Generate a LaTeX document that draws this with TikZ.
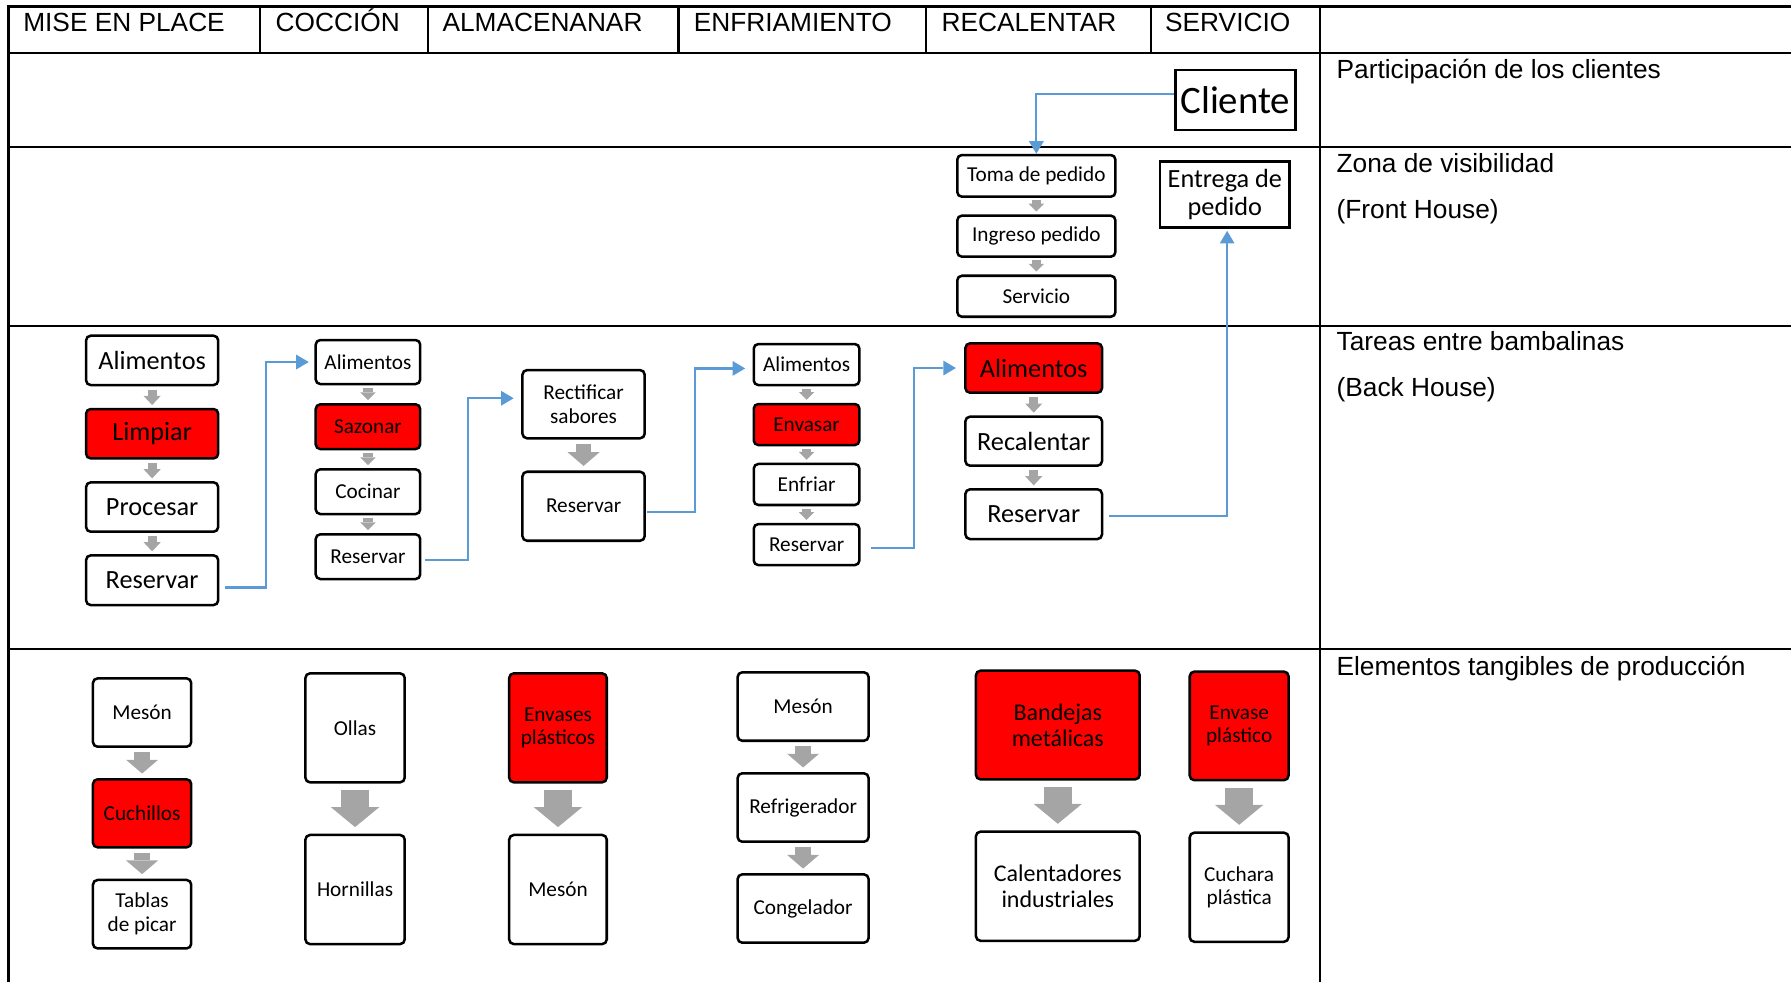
\documentclass[tikz,border=0pt]{standalone}
\usepackage{fontspec}
\setmainfont{Liberation Sans}
\newfontfamily\boxfont{Carlito}
\usetikzlibrary{arrows.meta}

\definecolor{flowblue}{HTML}{5B9BD5}
\definecolor{stepgrey}{HTML}{A5A5A5}
\definecolor{hotred}{HTML}{FF0000}

% box from its corner coordinates: name, x1, y1, x2, y2, style, text
\newcommand\bx[7]{\node[#6, minimum width={(#4-#2)*0.5pt}, minimum height={(#5-#3)*0.5pt}] (#1) at ({(#2+#4)/2},{(#3+#5)/2}) {#7};}

\begin{document}
\begin{tikzpicture}[x=0.5pt,y=-0.5pt,
  rule/.style={line width=1pt, line cap=rect},
  hdr/.style={anchor=base west, inner sep=0pt, font=\fontsize{11.5}{13}\selectfont},
  card/.style={draw=black, line width=1.1pt, rounded corners=2pt, fill=white, inner sep=0pt, align=center, text=black},
  hot/.style={card, fill=hotred},
  sharp/.style={card, rounded corners=0pt},
  fbig/.style={font=\boxfont\fontsize{11.5}{12.4}\selectfont},
  fmid/.style={font=\boxfont\fontsize{10.5}{11.6}\selectfont},
  fsm/.style={font=\boxfont\fontsize{9.3}{10.4}\selectfont},
  fhuge/.style={font=\boxfont\fontsize{17}{20}\selectfont},
  tiny/.style={draw=stepgrey, line width=4pt, -{Triangle[width=6.8pt,length=3.4pt,line width=0pt]}, shorten <=1.1pt, shorten >=1.3pt},
  small/.style={draw=stepgrey, line width=4pt, -{Triangle[width=7.5pt,length=4pt,line width=0pt]}, shorten <=1.5pt, shorten >=1.2pt},
  mid/.style={draw=stepgrey, line width=6.9pt, -{Triangle[width=14pt,length=6pt,line width=0pt]}, shorten <=1.9pt, shorten >=2pt},
  big/.style={draw=stepgrey, line width=12.3pt, -{Triangle[width=21.2pt,length=8.75pt,line width=0pt]}, shorten <=2.8pt, shorten >=2.9pt},
  flow/.style={draw=flowblue, line width=1pt, -{Triangle[width=6.5pt,length=5.5pt,line width=0pt]}}
]
\useasboundingbox (0,0) rectangle (1568,859);

% table grid
\draw[rule] (7.5,5.8) -- (1568,5.8);
\draw[rule] (7.5,46.7) -- (1568,46.7);
\draw[rule] (7.5,128.4) -- (1568,128.4);
\draw[rule] (7.5,285.1) -- (1568,285.1);
\draw[rule] (7.5,568.3) -- (1568,568.3);
\draw[rule] (7.5,5.8) -- (7.5,859);
\draw[rule] (1155.6,5.8) -- (1155.6,859);
\foreach \x in {227.6,374.4,594,811,1007.5} \draw[rule] (\x,5.8) -- (\x,46.7);

% column headings
\node[hdr] (h1) at (20,27.7) {MISE EN PLACE};
\node[hdr] (h2) at (241,27.7) {COCCIÓN};
\node[hdr] (h3) at (387,27.7) {ALMACENANAR};
\node[hdr] (h4) at (607,27.7) {ENFRIAMIENTO};
\node[hdr] (h5) at (824,27.7) {RECALENTAR};
\node[hdr] (h6) at (1019.7,27.7) {SERVICIO};

% row labels
\node[hdr] (l1) at (1169.8,68.6) {Participación de los clientes};
\node[hdr] (l2a) at (1169.8,151.2) {Zona de visibilidad};
\node[hdr] (l2b) at (1169.8,191) {(Front House)};
\node[hdr] (l3a) at (1169.8,307) {Tareas entre bambalinas};
\node[hdr] (l3b) at (1169.8,346.7) {(Back House)};
\node[hdr] (l4) at (1169.8,591) {Elementos tangibles de producción};

% customer and front house
\bx{cli}{1028.9}{61.3}{1134.2}{113.8}{sharp,fhuge}{Cliente}
\bx{toma}{838.1}{135.7}{976.5}{172.2}{card,fsm}{Toma de pedido}
\bx{ingr}{838.1}{188.8}{976.5}{224.7}{card,fsm}{Ingreso pedido}
\bx{serv}{838.1}{241.4}{976.5}{277.3}{card,fsm}{Servicio}
\bx{ent}{1015.6}{141.6}{1129.1}{199}{sharp,fbig}{Entrega de\\pedido}

% back house: mise en place
\bx{a1}{75.4}{293.9}{191}{337.1}{card,fbig}{Alimentos}
\bx{l1b}{75.4}{358.1}{191}{401.3}{hot,fbig}{Limpiar}
\bx{p1}{75.4}{422.3}{191}{465.5}{card,fbig}{Procesar}
\bx{r1}{75.4}{486.2}{191}{529.7}{card,fbig}{Reservar}
% coccion
\bx{a2}{276.4}{297.7}{367.9}{336.2}{card,fsm}{Alimentos}
\bx{s2}{276.4}{354}{367.9}{393.1}{hot,fsm}{Sazonar}
\bx{c2}{276.4}{410.9}{367.9}{450}{card,fsm}{Cocinar}
\bx{r2}{276.4}{467.8}{367.9}{506.9}{card,fsm}{Reservar}
% almacenar
\bx{rect}{457.4}{324}{564.4}{383.7}{card,fsm}{Rectificar\\sabores}
\bx{r3}{457.4}{413}{564.4}{473.4}{card,fsm}{Reservar}
% enfriamiento
\bx{a4}{659.9}{301.2}{752.4}{337.1}{card,fsm}{Alimentos}
\bx{e4}{659.9}{353.7}{752.4}{389.6}{hot,fsm}{Envasar}
\bx{f4}{659.9}{406.2}{752.4}{442.1}{card,fsm}{Enfriar}
\bx{r4}{659.9}{458.8}{752.4}{494.7}{card,fsm}{Reservar}
% recalentar
\bx{a5}{845.2}{300.6}{964.8}{343.8}{hot,fbig}{Alimentos}
\bx{rc5}{845.2}{364.8}{964.8}{407.7}{card,fbig}{Recalentar}
\bx{r5}{845.2}{428.4}{964.8}{471.9}{card,fbig}{Reservar}

% tangible elements
\bx{mA}{81.4}{593.9}{167.4}{653.7}{card,fsm}{Mesón}
\bx{cA}{81.4}{682.3}{167.4}{741.8}{hot,fsm}{Cuchillos}
\bx{tA}{81.4}{770.4}{167.4}{830.3}{card,fsm}{Tablas\\de picar}
\bx{oB}{267.4}{589.5}{354.3}{684.9}{card,fsm}{Ollas}
\bx{hB}{267.4}{731}{354.3}{826.5}{card,fsm}{Hornillas}
\bx{eC}{445.8}{589.5}{531.2}{684.9}{hot,fsm}{Envases\\plásticos}
\bx{mC}{445.8}{731}{531.2}{826.5}{card,fsm}{Mesón}
\bx{mD}{645.8}{588.6}{760.4}{648.5}{card,fsm}{Mesón}
\bx{rD}{645.8}{677}{760.4}{736.9}{card,fsm}{Refrigerador}
\bx{cD}{645.8}{765.5}{760.4}{825.3}{card,fsm}{Congelador}
\bx{bE}{854.4}{587.2}{997.8}{682.3}{hot,fmid}{Bandejas\\metálicas}
\bx{cE}{854.4}{728.1}{997.8}{823.6}{card,fmid}{Calentadores\\industriales}
\bx{eF}{1041.6}{588}{1128.1}{683}{hot,fsm}{Envase\\plástico}
\bx{cF}{1041.6}{729}{1128.1}{824.5}{card,fsm}{Cuchara\\plástica}

% grey step arrows
\draw[tiny] (toma) -- (ingr);
\draw[tiny] (ingr) -- (serv);
\draw[small] (a1) -- (l1b);
\draw[small] (l1b) -- (p1);
\draw[small] (p1) -- (r1);
\draw[tiny] (a2) -- (s2);
\draw[tiny] (s2) -- (c2);
\draw[tiny] (c2) -- (r2);
\draw[mid] (rect) -- (r3);
\draw[tiny] (a4) -- (e4);
\draw[tiny] (e4) -- (f4);
\draw[tiny] (f4) -- (r4);
\draw[small] (a5) -- (rc5);
\draw[small] (rc5) -- (r5);
\draw[mid] (mA) -- (cA);
\draw[mid] (cA) -- (tA);
\draw[big] (oB) -- (hB);
\draw[big] (eC) -- (mC);
\draw[mid] (mD) -- (rD);
\draw[mid] (rD) -- (cD);
\draw[big] (bE) -- (cE);
\draw[big] (eF) -- (cF);

% blue flow between stages
\draw[flow] ([yshift=2.5pt]cli.west) -| (toma.north);
\draw[flow, shorten <=2.5pt, shorten >=2.5pt] ([yshift=-3.2pt]r1.east) -| ([xshift=-21.3pt]a2.west) -- (a2.west);
\draw[flow, shorten <=1.5pt, shorten >=3.3pt] ([yshift=-1.5pt]r2.east) -| ([xshift=-23.2pt,yshift=2.6pt]rect.west) -- ([yshift=2.6pt]rect.west);
\draw[flow, shorten <=0.5pt, shorten >=3.2pt] ([yshift=-2.5pt]r3.east) -| ([xshift=-25.3pt,yshift=-1.7pt]a4.west) -- ([yshift=-1.7pt]a4.west);
\draw[flow, shorten <=4.5pt, shorten >=3.6pt] ([yshift=-1.6pt]r4.east) -| ([xshift=-22.1pt]a5.west) -- (a5.west);
\draw[flow, shorten <=2.5pt, shorten >=1pt] ([yshift=-0.8pt]r5.east) -| ([xshift=1pt]ent.south);
\end{tikzpicture}
\end{document}
